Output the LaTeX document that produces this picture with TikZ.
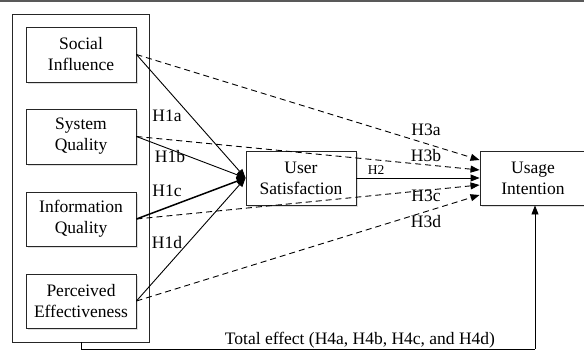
\documentclass[tikz,border=0pt]{standalone}
\usepackage{fontspec}
\setmainfont{Liberation Serif}
\usetikzlibrary{arrows.meta,shadows}
\begin{document}
\begin{tikzpicture}[x=1pt,y=-1pt,
  box/.style={draw=black!85,line width=0.9pt,fill=white,align=center,inner sep=0pt,
     font=\fontsize{17.5}{21}\selectfont,
     drop shadow={opacity=0.25,shadow xshift=1.5pt,shadow yshift=-1.5pt}},
  arr/.style={line width=0.9pt,-{Triangle[length=9pt,width=7pt]}},
  darr/.style={arr,dash pattern=on 6pt off 4pt},
  lab/.style={font=\fontsize{17.5}{21}\selectfont,inner sep=0pt},
  slab/.style={font=\fontsize{13.5}{16}\selectfont,inner sep=0pt}]
\useasboundingbox (0,0) rectangle (584,356);
\draw[line width=1.6pt,draw=black!65] (0,1.2) -- (584,1.2);
% outer group
\node[draw=black!85,line width=0.9pt,minimum width=137pt,minimum height=328pt,inner sep=0pt] (grp) at (80.5,178) {};
% predictors
\node[box,minimum width=110pt,minimum height=55pt] (si) at (81,54.5) {Social\\Influence};
\node[box,minimum width=110pt,minimum height=55pt] (sq) at (81,136.5) {System\\Quality};
\node[box,minimum width=110pt,minimum height=54pt] (iq) at (81,219) {Information\\Quality};
\node[box,minimum width=110pt,minimum height=54pt] (pe) at (81,301) {Perceived\\Effectiveness};
\node[box,minimum width=110pt,minimum height=54pt] (us) at (301,178) {User\\Satisfaction};
\node[box,minimum width=106pt,minimum height=54pt] (ui) at (533,178) {Usage\\Intention};
% H1 arrows
\coordinate (conv) at (us.west);
\draw[arr] (si.east) -- (conv);
\draw[arr] (sq.east) -- (conv);
\draw[arr,line width=1.5pt] (iq.east) -- (conv);
\draw[arr] (pe.east) -- (conv);
% H3 dashed
\draw[darr] (si.east) -- ([yshift=18pt]ui.west);
\draw[darr] (sq.east) -- ([yshift=8pt]ui.west);
\draw[darr] (iq.east) -- ([yshift=-7pt]ui.west);
\draw[darr] (pe.east) -- ([yshift=-17pt]ui.west);
% H2
\draw[arr] (us.east) -- (ui.west);
% total effect
\coordinate (c1) at (81,349);
\coordinate (c2) at (535,349);
\draw[line width=0.9pt] (grp.south -| c1) -- (c1) -- (c2);
\draw[arr] (c2) -- (c2 |- ui.south);
% labels
\node[lab] (h1a) at (167,116) {H1a};
\node[lab] (h1b) at (170,157) {H1b};
\node[lab] (h1c) at (167,191) {H1c};
\node[lab] (h1d) at (167,243) {H1d};
\node[lab] (h3a) at (426,130) {H3a};
\node[lab] (h3b) at (426,156) {H3b};
\node[slab] (h2) at (376,170) {H2};
\node[lab] (h3c) at (426,196) {H3c};
\node[lab] (h3d) at (426,222) {H3d};
\node[lab] (te) at (360,340) {Total effect (H4a, H4b, H4c, and H4d)};
\end{tikzpicture}
\end{document}
